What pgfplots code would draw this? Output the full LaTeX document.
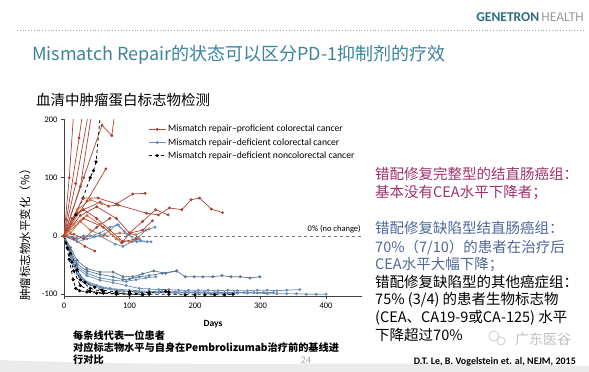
\documentclass[border=0pt]{standalone}
\usepackage{fontspec}
\usepackage{pgfplots}
\pgfplotsset{compat=1.18}
\setmainfont{Carlito}
\newfontfamily\cjk{Noto Sans CJK SC}
\definecolor{redc}{RGB}{168,68,55}
\definecolor{orc}{RGB}{205,112,62}
\definecolor{bluc}{RGB}{105,140,180}
\definecolor{blud}{RGB}{88,118,148}
\definecolor{titc}{RGB}{58,132,160}
\definecolor{genc}{RGB}{48,108,128}
\definecolor{magc}{RGB}{160,48,108}
\definecolor{bltx}{RGB}{78,104,155}
\pgfplotsset{
 rp/.style={draw=redc, line width=0.7pt, mark=*, mark size=1.1pt, mark options={fill=redc,draw=redc}},
 op/.style={draw=orc, line width=0.7pt, mark=*, mark size=1.1pt, mark options={fill=orc,draw=orc}},
 bp/.style={draw=bluc, line width=0.7pt, mark=*, mark size=1.1pt, mark options={fill=bluc,draw=bluc}},
 bd/.style={draw=blud, line width=0.7pt, mark=*, mark size=1.1pt, mark options={fill=blud,draw=blud}},
 kp/.style={draw=black, line width=0.8pt, dashed, mark=*, mark size=1.2pt, mark options={solid,fill=black}},
}
\begin{document}
\begin{tikzpicture}[x=1pt,y=1pt]
\path[use as bounding box] (0,0) rectangle (589,372);
% bottom swoosh
\fill[black!8] (0,0) -- (589,0) -- (589,6) .. controls (400,12) and (200,4) .. (0,12) -- cycle;
% header
\node[anchor=base east, inner sep=0pt, font=\fontsize{13.5}{15}\selectfont\bfseries] at (584,350) {\textcolor{genc}{GENETRON}\,\textcolor{black!40}{\mdseries HEALTH}};
\draw[black!35, line width=0.8pt, dotted] (17,342) -- (584,342);
\node[anchor=base west, inner sep=0pt, text=titc, font=\cjk\fontsize{18}{22}\selectfont] at (32,311) {Mismatch Repair的状态可以区分PD-1抑制剂的疗效};
\node[anchor=base west, inner sep=0pt, font=\cjk\fontsize{14.5}{16}\selectfont] at (36,266) {血清中肿瘤蛋白标志物检测};
% y label
\node[rotate=90, inner sep=0pt, font=\cjk\fontsize{11.5}{13}\selectfont] at (25,140) {肿瘤标志物水平变化（\%）};
% Days
\node[inner sep=0pt, font=\fontsize{9.5}{11}\selectfont\bfseries] at (213,48) {Days};
% notes
\begin{scope}[font=\cjk\fontsize{10.2}{11}\selectfont\bfseries]
\node[anchor=base west, inner sep=0pt] at (73,32) {每条线代表一位患者};
\node[anchor=base west, inner sep=0pt] at (73,20) {对应标志物水平与自身在Pembrolizumab治疗前的基线进};
\node[anchor=base west, inner sep=0pt] at (73,8) {行对比};
\end{scope}
\node[anchor=base, inner sep=0pt, text=black!35, font=\fontsize{10}{11}\selectfont] at (306,8) {24};
\node[anchor=base east, inner sep=0pt, font=\fontsize{10}{11}\selectfont\bfseries] at (576,7) {D.T. Le, B. Vogelstein et. al, NEJM, 2015};
% watermark
\draw[black!25, line width=0.6pt] (494,36) circle (5);
\draw[black!25, line width=0.6pt] (501,31) circle (4);
\node[anchor=base west, inner sep=0pt, text=black!25, font=\cjk\fontsize{14}{16}\selectfont] at (515,27) {广东医谷};
% right text
\begin{scope}[font=\cjk\fontsize{14.5}{16}\selectfont]
\node[anchor=base west, inner sep=0pt, text=magc] at (375,192) {错配修复完整型的结直肠癌组：};
\node[anchor=base west, inner sep=0pt, text=magc] at (375,174) {基本没有CEA水平下降者；};
\node[anchor=base west, inner sep=0pt, text=bltx] at (375,138) {错配修复缺陷型结直肠癌组：};
\node[anchor=base west, inner sep=0pt, text=bltx] at (375,119) {70\%（7/10）的患者在治疗后};
\node[anchor=base west, inner sep=0pt, text=bltx] at (375,102) {CEA水平大幅下降；};
\node[anchor=base west, inner sep=0pt] at (375,84) {错配修复缺陷型的其他癌症组：};
\node[anchor=base west, inner sep=0pt] at (375,67) {75\% (3/4) 的患者生物标志物};
\node[anchor=base west, inner sep=0pt] at (375,49) {(CEA、CA19-9或CA-125) 水平};
\node[anchor=base west, inner sep=0pt] at (375,31) {下降超过70\%};
\end{scope}
\begin{axis}[
 at={(64pt,76pt)}, anchor=south west, scale only axis,
 width=298pt, height=176.7pt,
 xmin=0, xmax=455, ymin=-103, ymax=200,
 axis lines=left, axis line style={-, black!75, line width=0.6pt},
 xtick={0,100,200,300,400}, ytick={-100,0,100,200},
 tick align=outside, major tick length=3pt,
 tick style={black!75, line width=0.6pt},
 tick label style={font=\fontsize{8.5}{10}\selectfont},
 /pgf/number format/assume math mode=true,
 legend style={at={(0.272,0.99)}, anchor=north west, draw=none, fill=none,
   font=\fontsize{9.6}{11}\selectfont, row sep=1pt},
 legend cell align=left,
]
\addlegendimage{rp}\addlegendentry{Mismatch repair--proficient colorectal cancer}
\addlegendimage{bp}\addlegendentry{Mismatch repair--deficient colorectal cancer}
\addlegendimage{kp}\addlegendentry{Mismatch repair--deficient noncolorectal cancer}
\draw[black!55, dashed, line width=0.6pt] (axis cs:0,0) -- (axis cs:455,0);
\node[anchor=south east, inner sep=1pt, font=\fontsize{8.5}{9}\selectfont] at (axis cs:455,3) {0\% (no change)};
% ---- blue: deficient colorectal
\addplot[bp, forget plot] coordinates {(0,0)(15,-3)(30,0)(47,-1)(62,3)(81,19)(92,8)(111,-10)(127,-10)};
\addplot[bp, forget plot] coordinates {(0,0)(20,-5)(40,0)(55,5)(70,15)(83,19)(97,2)(112,-4)(125,10)(139,15)};
\addplot[bp, forget plot] coordinates {(0,0)(20,-10)(35,-5)(55,0)(78,-14)(90,-18)(104,-10)(117,-8)(133,-10)};
\addplot[bd, forget plot] coordinates {(0,0)(10,-20)(20,-42)(35,-56)(55,-62)(75,-62)(90,-70)(105,-70)(120,-65)(137,-60)(155,-64)(172,-60)(185,-70)(199,-70)(212,-70)(227,-70)(241,-68)(255,-70)(269,-70)(284,-72)(299,-70)};
\addplot[bd, forget plot] coordinates {(0,0)(10,-25)(20,-48)(35,-60)(55,-66)(75,-70)(90,-75)(100,-74)(115,-70)(130,-68)(150,-64)(172,-60)};
\addplot[bp, forget plot] coordinates {(0,0)(10,-28)(20,-52)(35,-64)(55,-72)(75,-76)(95,-78)(110,-75)(125,-72)(140,-70)};
\addplot[bp, forget plot] coordinates {(0,0)(10,-30)(20,-55)(35,-68)(55,-76)(75,-80)(95,-85)(115,-90)(130,-91)(145,-92)(160,-92)(175,-93)(190,-93)(205,-93)(220,-93)(235,-94)(250,-93)(265,-94)(280,-94)(295,-93)(310,-93)(325,-94)(340,-93)(360,-92)};
\addplot[bp, forget plot] coordinates {(0,0)(10,-35)(20,-65)(35,-80)(55,-88)(80,-93)(100,-95)(115,-96)(130,-96)(145,-97)(160,-97)(175,-97)(190,-97)(205,-97)(220,-98)(235,-98)(250,-98)(265,-98)(280,-98)(295,-98)(310,-99)(325,-99)(340,-99)(355,-99)(370,-100)(385,-100)(400,-100)};
\addplot[bp, forget plot] coordinates {(0,0)(15,-50)(30,-75)(50,-85)(70,-90)(100,-93)(130,-95)(150,-95)(170,-96)(185,-96)(200,-96)(215,-96)(230,-97)(245,-97)(260,-97)(275,-97)(290,-97)(305,-97)(320,-97)};
\addplot[bp, forget plot] coordinates {(0,0)(12,-40)(25,-70)(40,-84)(60,-90)(85,-94)(110,-96)(140,-97)(170,-98)(200,-98)(230,-99)(260,-99)};
% ---- black dashed: deficient noncolorectal
\addplot[kp, forget plot] coordinates {(0,0)(18,36)(29,65)(40,100)(45,112)(49,127)(56,215)};
\addplot[kp, forget plot] coordinates {(0,0)(8,-40)(14,-75)(18,-90)(24,-94)(35,-96)(50,-98)(80,-99)(100,-99)(130,-98)(160,-96)};
\addplot[kp, forget plot] coordinates {(0,0)(10,-30)(20,-58)(32,-80)(47,-88)(58,-93)(80,-96)(100,-96)(130,-97)(155,-95)};
\addplot[kp, forget plot] coordinates {(0,0)(12,-45)(25,-75)(40,-90)(60,-96)(80,-98)(100,-100)(130,-100)(160,-100)(185,-101)(200,-101)(215,-101)(230,-101)(245,-101)(258,-100)};
\addplot[kp, forget plot] coordinates {(0,0)(5,-20)(15,-60)(25,-85)(40,-95)(60,-98)(80,-100)(100,-100)(120,-101)};
% ---- red/orange: proficient colorectal
\addplot[rp, forget plot] coordinates {(0,0)(8,100)(15,215)};
\addplot[rp, forget plot] coordinates {(0,0)(23,168)(29,215)};
\addplot[rp, forget plot] coordinates {(0,0)(18,90)(38,215)};
\addplot[rp, forget plot] coordinates {(0,0)(25,85)(43,215)};
\addplot[rp, forget plot] coordinates {(0,0)(30,100)(58,190)(73,172)(78,215)};
\addplot[rp, forget plot] coordinates {(0,0)(35,60)(64,115)};
\addplot[rp, forget plot] coordinates {(0,0)(29,65)(52,65)(80,55)(105,72)(124,73)};
\addplot[rp, forget plot] coordinates {(0,0)(20,40)(55,58)(68,51)(83,53)(126,39)(144,36)(161,48)(180,45)(194,62)(207,65)(225,46)(242,40)};
\addplot[rp, forget plot] coordinates {(0,0)(15,-5)(32,-18)(47,-26)};
\addplot[rp, forget plot] coordinates {(0,0)(30,30)(60,15)(88,-12)(101,5)(120,10)(135,26)};
\addplot[rp, forget plot] coordinates {(0,0)(25,35)(50,50)(80,30)(100,5)(120,25)(140,45)(159,36)};
\addplot[op, forget plot] coordinates {(0,0)(20,45)(40,62)(58,55)};
\addplot[op, forget plot] coordinates {(0,0)(15,20)(35,35)(55,20)(80,-5)(100,-10)(115,-5)};
\addplot[op, forget plot] coordinates {(0,0)(10,5)(25,25)(40,10)(60,0)(85,5)(110,2)(130,12)};
\addplot[rp, forget plot] coordinates {(0,0)(12,30)(30,45)(50,30)(70,10)(90,-10)(110,-5)};
\addplot[rp, forget plot] coordinates {(0,0)(15,3)(30,-5)(50,15)(70,30)};
\end{axis}
\end{tikzpicture}
\end{document}
